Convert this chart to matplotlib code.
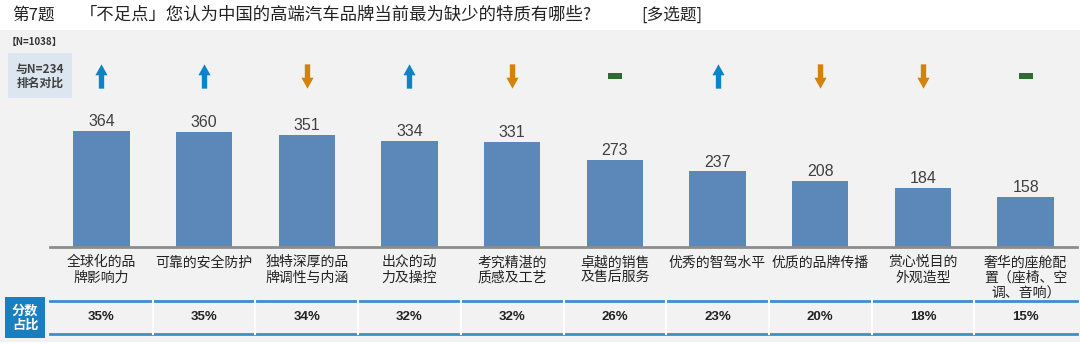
import matplotlib.pyplot as plt
from matplotlib.path import Path
from matplotlib.patches import Rectangle

plt.rcParams['font.family'] = ['Noto Sans CJK SC', 'DejaVu Sans']

categories = ['全球化的品\n牌影响力', '可靠的安全防护', '独特深厚的品\n牌调性与内涵', '出众的动\n力及操控',
              '考究精湛的\n质感及工艺', '卓越的销售\n及售后服务', '优秀的智驾水平', '优质的品牌传播',
              '赏心悦目的\n外观造型', '奢华的座舱配\n置（座椅、空\n调、音响）']
scores = [364, 360, 351, 334, 331, 273, 237, 208, 184, 158]
shares = [35, 35, 34, 32, 32, 26, 23, 20, 18, 15]
trend = ['up', 'up', 'down', 'up', 'down', 'flat', 'up', 'down', 'down', 'flat']

W, H = 1080, 344
fig = plt.figure(figsize=(W / 100, H / 100), dpi=100)

# full-figure overlay in pixel units for title and side boxes
bg = fig.add_axes([0, 0, 1, 1])
bg.set_xlim(0, W)
bg.set_ylim(H, 0)
bg.axis('off')
bg.add_patch(Rectangle((0, 30), W, 312, color='#f2f2f2', lw=0))
bg.text(12, 15, '第7题', fontsize=12, va='center', color='#222222')
bg.text(80, 15, '「不足点」您认为中国的高端汽车品牌当前最为缺少的特质有哪些?', fontsize=12.5,
        va='center', color='#222222')
bg.text(641, 15, '[多选题]', fontsize=12, va='center', color='#222222')
bg.text(7, 42, '【N=1038】', fontsize=7, va='center', fontweight='bold', color='#333333')
bg.add_patch(Rectangle((8, 53), 64, 45, color='#dce6f0', lw=0))
bg.text(40, 76, '与N=234\n排名对比', fontsize=8.5, ha='center', va='center', fontweight='bold',
        color='#404040', linespacing=1.05)
bg.add_patch(Rectangle((5, 297), 40, 41, color='#1a7fc1', lw=0))
bg.text(25, 317.5, '分数\n占比', fontsize=9.5, ha='center', va='center', fontweight='bold',
        color='white', linespacing=1.0)

# bar chart: bottom at y=247px, top at y=30px
ax = fig.add_axes([50 / W, 1 - 247 / H, 1027 / W, 217 / H])
ax.patch.set_alpha(0)
x = list(range(len(scores)))
bars = ax.bar(x, scores, width=0.55, color='#5b88b9')
ax.set_xlim(-0.5, len(scores) - 0.5)
ax.set_ylim(0, 217 / (116 / 364))
for s in ['top', 'right', 'left']:
    ax.spines[s].set_visible(False)
ax.spines['bottom'].set_color('#8c8c8c')
ax.spines['bottom'].set_linewidth(2)
ax.set_yticks([])
ax.set_xticks(x)
ax.set_xticklabels(categories, fontsize=10, color='#222222', linespacing=1.15, va='top')
ax.tick_params(axis='x', length=0, pad=6)
for xi, v in zip(x, scores):
    ax.text(xi, v + 6, str(v), ha='center', va='bottom', fontsize=11.5,
            family='Liberation Sans', color='#404040')

# ranking-change markers
up = Path([(-0.5, 0.1), (0, 1), (0.5, 0.1), (0.22, 0.1), (0.22, -1), (-0.22, -1), (-0.22, 0.1), (-0.5, 0.1)],
          closed=True)
down = Path([(px, -py) for px, py in up.vertices], closed=True)
flat = Path([(-1, -0.45), (1, -0.45), (1, 0.45), (-1, 0.45), (-1, -0.45)], closed=True)
styles = {'up': (up, '#0a84c8', 17.5), 'down': (down, '#d4820a', 17.5), 'flat': (flat, '#2e6b30', 10.5)}
tr = ax.get_xaxis_transform()
for xi, t in zip(x, trend):
    m, c, ms = styles[t]
    ax.plot(xi, (247 - 76) / 217, marker=m, color=c, markersize=ms, markeredgewidth=0,
            transform=tr, clip_on=False)

# score share row under the labels
y_top, y_bot = (247 - 301) / 217, (247 - 334) / 217
for y in (y_top, y_bot):
    ax.plot([-0.5, len(scores) - 0.5], [y, y], color='#3a8fd0', lw=2, transform=tr, clip_on=False)
for b in range(1, len(scores)):
    ax.plot([b - 0.5, b - 0.5], [y_top, y_bot], color='white', lw=1.5, transform=tr, clip_on=False)
for xi, p in zip(x, shares):
    ax.text(xi, (y_top + y_bot) / 2, f'{p}%', ha='center', va='center', fontsize=9.5,
            fontweight='bold', family='Liberation Sans', color='#222222', transform=tr)

fig.savefig('out.png', dpi=100)
